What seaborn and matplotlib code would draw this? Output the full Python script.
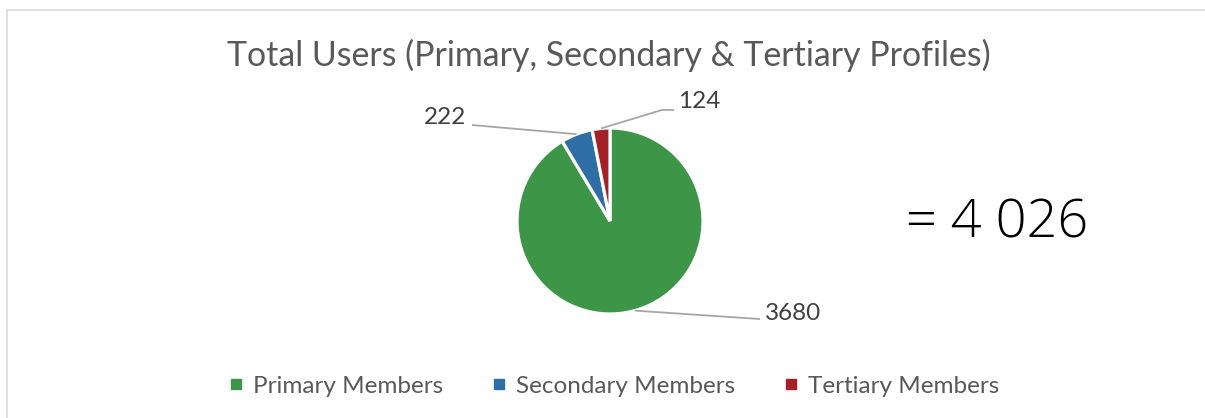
import numpy as np
import matplotlib
matplotlib.use("Agg")
import matplotlib.pyplot as plt
from matplotlib.lines import Line2D
import seaborn as sns

# ---- data ----
categories = ["Primary Members", "Secondary Members", "Tertiary Members"]
values = [3680, 222, 124]
value_labels = ["3680", "222", "124"]
total_label = "= 4 026"
title = "Total Users (Primary, Secondary & Tertiary Profiles)"

# ---- style ----
colors = ["#3D9647", "#2E6EA5", "#A52126"]
sns.set_theme(style="white")
plt.rcParams["font.family"] = ["Lato", "DejaVu Sans"]

W, H = 1205, 418
fig = plt.figure(figsize=(W / 100, H / 100), dpi=100)

# pie axes: centre (610, 221) px, radius 93 px
cx, cy, r = 610, 221, 93
ax = fig.add_axes([(cx - r) / W, (H - cy - r) / H, 2 * r / W, 2 * r / H])
wedges, _ = ax.pie(values, colors=colors, startangle=90, counterclock=False,
                   wedgeprops=dict(edgecolor="white", linewidth=2.3),
                   radius=1.0)
ax.set_xlim(-1, 1)
ax.set_ylim(-1, 1)
ax.set_aspect("equal")
ax.axis("off")

# data labels with leader lines (layout: elbow point, text anchor)
label_layout = [
    dict(path=[(1.613, -1.054)], text=(1.667, -0.99), ha="left"),
    dict(path=[(-1.484, 1.032)], text=(-1.548, 1.11), ha="right"),
    dict(path=[(0.559, 1.194), (0.688, 1.194)], text=(0.731, 1.28), ha="left"),
]
for w, lab, lay in zip(wedges, value_labels, label_layout):
    mid = np.deg2rad((w.theta1 + w.theta2) / 2)
    start = (np.cos(mid), np.sin(mid))
    pts = [start] + lay["path"]
    xs, ys = zip(*pts)
    ax.plot(xs, ys, color="#A6A6A6", lw=1.3, clip_on=False, solid_capstyle="butt")
    ax.text(lay["text"][0], lay["text"][1], lab, ha=lay["ha"], va="center",
            fontsize=17.5, color="#404040", clip_on=False)

# title
fig.text(609 / W, 1 - 55 / H, title, ha="center", va="center",
         fontsize=24.4, color="#595959")

# total annotation
fig.text(997 / W, 1 - 224 / H, total_label, ha="center", va="center",
         fontsize=39, color="black", family=["Open Sans", "Lato"],
         fontweight="light")

# legend
handles = [Line2D([0], [0], marker="s", linestyle="none", markersize=7,
                  markerfacecolor=c, markeredgecolor=c) for c in colors]
fig.legend(handles, categories, loc="center", ncol=3,
           bbox_to_anchor=(613 / W, 1 - 386 / H), frameon=False,
           fontsize=17.5, labelcolor="#595959", handletextpad=0.3,
           columnspacing=1.9, handlelength=0.8)

# chart border (top and left edges visible)
border = "#D9D9D9"
fig.add_artist(Line2D([6.5 / W, 1], [1 - 9.5 / H, 1 - 9.5 / H],
                      transform=fig.transFigure, color=border, lw=1.2))
fig.add_artist(Line2D([6.5 / W, 6.5 / W], [0, 1 - 9.5 / H],
                      transform=fig.transFigure, color=border, lw=1.2))

fig.savefig("out.png", dpi=100, facecolor="white")
